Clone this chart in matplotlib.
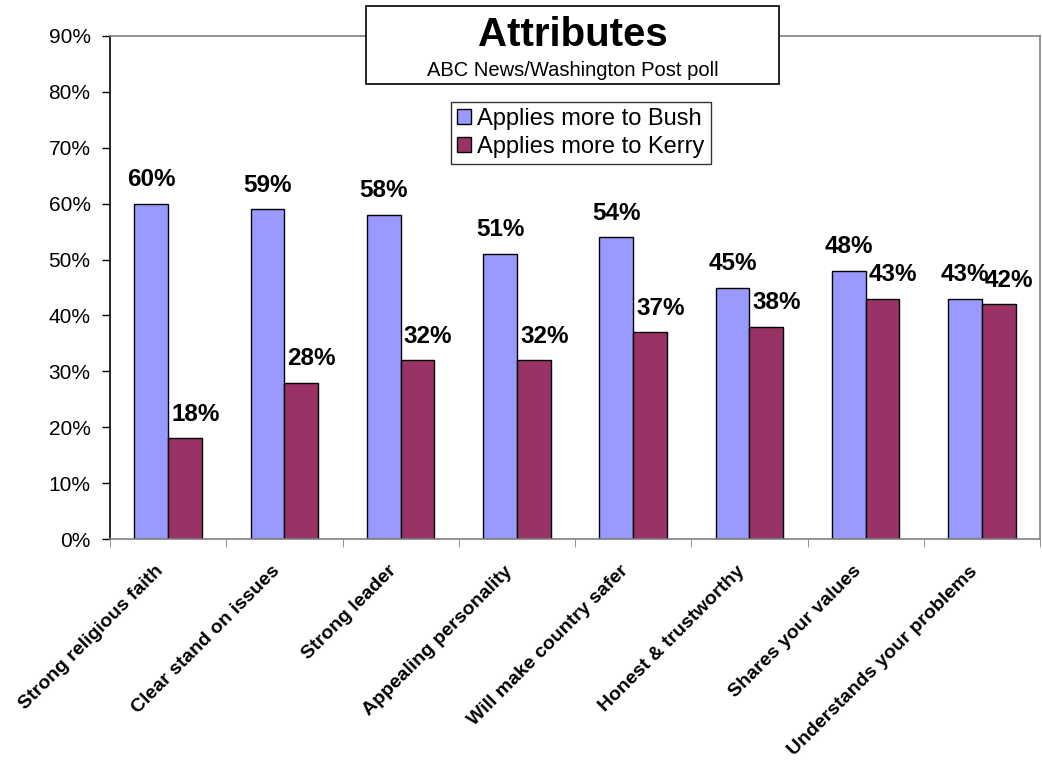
import matplotlib.pyplot as plt
import matplotlib.patches as patches
import matplotlib.transforms as mtransforms
import numpy as np

plt.rcParams['font.family'] = ['Liberation Sans', 'DejaVu Sans']

# poll data
attributes = ['Strong religious faith', 'Clear stand on issues', 'Strong leader',
              'Appealing personality', 'Will make country safer',
              'Honest & trustworthy', 'Shares your values',
              'Understands your problems']
bush = [60, 59, 58, 51, 54, 45, 48, 43]
kerry = [18, 28, 32, 32, 37, 38, 43, 42]
yticks = [0, 10, 20, 30, 40, 50, 60, 70, 80, 90]

fig = plt.figure(figsize=(10.42, 7.61), dpi=100)
ax = fig.add_axes([0.1056, 0.2917, 0.8925, 0.661])

x = np.arange(len(attributes))
w = 0.29
b1 = ax.bar(x - w / 2, bush, w, color='#9999FF', edgecolor='black', linewidth=1,
            label='Applies more to Bush')
b2 = ax.bar(x + w / 2, kerry, w, color='#993366', edgecolor='black', linewidth=1,
            label='Applies more to Kerry')

# value labels above the bars
for rect, v in zip(b1, bush):
    ax.annotate(f'{v}%', (rect.get_x() + rect.get_width() / 2, v), xytext=(0, 9),
                textcoords='offset points', ha='center', va='bottom',
                fontsize=17.5, fontweight='bold')
for rect, v in zip(b2, kerry):
    ax.annotate(f'{v}%', (rect.get_x() + rect.get_width() / 2 + 0.09, v), xytext=(0, 9),
                textcoords='offset points', ha='center', va='bottom',
                fontsize=17.5, fontweight='bold')

ax.set_xlim(-0.5, len(attributes) - 0.5)
ax.set_ylim(0, 90)
ax.set_yticks(yticks)
ax.set_yticklabels([f'{t}%' for t in yticks], fontsize=15)
ax.tick_params(axis='y', direction='out', length=6, width=1, color='black', pad=8)

ax.set_xticks(x)
ax.set_xticklabels(attributes, rotation=45, ha='right', rotation_mode='anchor',
                   fontsize=14, fontweight='bold')
ax.tick_params(axis='x', which='major', length=0, pad=17)
shift = mtransforms.ScaledTranslation(-13 / 100, 0, fig.dpi_scale_trans)
for lab in ax.get_xticklabels():
    lab.set_transform(lab.get_transform() + shift)
ax.set_xticks(np.arange(len(attributes) + 1) - 0.5, minor=True)
ax.tick_params(axis='x', which='minor', direction='out', length=6, color='#808080')

ax.spines['left'].set_color('black')
for s in ['top', 'right', 'bottom']:
    ax.spines[s].set_color('#808080')
for s in ax.spines.values():
    s.set_linewidth(1.2)

# title box
box = patches.Rectangle((0.3512, 0.8896), 0.3964, 0.1024, transform=fig.transFigure,
                        facecolor='white', edgecolor='black', linewidth=1.2, zorder=5)
fig.patches.append(box)
fig.text(0.5494, 0.9545, 'Attributes', ha='center', va='center', fontsize=29,
         fontweight='bold', zorder=6)
fig.text(0.5494, 0.907, 'ABC News/Washington Post poll', ha='center', va='center',
         fontsize=14.5, zorder=6)

leg = fig.legend(loc='center', bbox_to_anchor=(0.5576, 0.8252), fontsize=17,
                 frameon=True, fancybox=False, edgecolor='black', handlelength=0.6,
                 handleheight=0.6, handletextpad=0.25, borderpad=0.25, labelspacing=0.25,
                 borderaxespad=0)
leg.get_frame().set_linewidth(1)

fig.savefig('out.png', dpi=100)
